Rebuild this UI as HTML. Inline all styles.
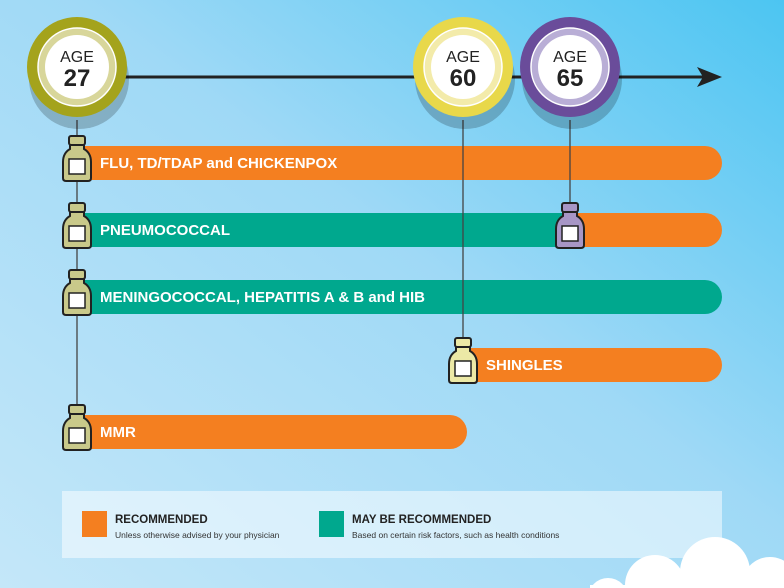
<!DOCTYPE html>
<html><head><style>
html,body{margin:0;padding:0;width:784px;height:588px;overflow:hidden}
svg{display:block}
text{font-family:"Liberation Sans",sans-serif}
</style></head><body>
<svg width="784" height="588" viewBox="0 0 784 588" xmlns="http://www.w3.org/2000/svg">
<defs>
<linearGradient id="bg" x1="0" y1="1" x2="1" y2="0">
<stop offset="0" stop-color="#c4e7f9"/><stop offset="0.55" stop-color="#9fd9f6"/><stop offset="1" stop-color="#4cc5f2"/>
</linearGradient>
<g id="bottle">
<rect x="-8" y="-10" width="16" height="9" rx="2" stroke="#222" stroke-width="2"/>
<path d="M-7,-1 L7,-1 L7,3 Q14,7 14,16 L14,32 Q14,35 11,35 L-11,35 Q-14,35 -14,32 L-14,16 Q-14,7 -7,3 Z" stroke="#222" stroke-width="2"/>
<rect x="-8" y="13" width="16" height="15" fill="#fff" stroke="#222" stroke-width="1.5"/>
</g>
</defs>
<rect width="784" height="588" fill="url(#bg)"/>
<!-- timeline -->
<line x1="120" y1="77" x2="705" y2="77" stroke="#222" stroke-width="3"/>
<path d="M697,67 L722,77 L697,87 L703,77 Z" fill="#222"/>
<line x1="77" y1="120" x2="77" y2="420" stroke="#444" stroke-width="1.3"/>
<!-- bars -->
<path d="M85,146 H705 A17,17 0 0 1 705,180 H85 Z" fill="#f47f20"/>
<path d="M570,213 H705 A17,17 0 0 1 705,247 H570 Z" fill="#f47f20"/>
<rect x="85" y="213" width="485" height="34" fill="#00a88e"/>
<path d="M85,280 H705 A17,17 0 0 1 705,314 H85 Z" fill="#00a88e"/>
<path d="M463,348 H705 A17,17 0 0 1 705,382 H463 Z" fill="#f47f20"/>
<path d="M85,415 H450 A17,17 0 0 1 450,449 H85 Z" fill="#f47f20"/>
<line x1="463" y1="120" x2="463" y2="345" stroke="#444" stroke-width="1.3"/>
<line x1="570" y1="120" x2="570" y2="210" stroke="#444" stroke-width="1.3"/>
<g font-weight="bold" fill="#fff" font-size="15">
<text x="100" y="168">FLU, TD/TDAP and CHICKENPOX</text>
<text x="100" y="235">PNEUMOCOCCAL</text>
<text x="100" y="302">MENINGOCOCCAL, HEPATITIS A &amp; B and HIB</text>
<text x="486" y="370">SHINGLES</text>
<text x="100" y="437">MMR</text>
</g>
<!-- bottles -->
<g fill="#c9c98a"><use href="#bottle" x="77" y="146"/></g>
<g fill="#c9c98a"><use href="#bottle" x="77" y="213"/></g>
<g fill="#c9c98a"><use href="#bottle" x="77" y="280"/></g>
<g fill="#c9c98a"><use href="#bottle" x="77" y="415"/></g>
<g fill="#ece9a6"><use href="#bottle" x="463" y="348"/></g>
<g fill="#a796c6"><use href="#bottle" x="570" y="213"/></g>
<!-- age circles -->
<g>
<circle cx="79" cy="79" r="50" fill="#000" opacity="0.2"/>
<circle cx="77" cy="67" r="50" fill="#a4a31c"/>
<circle cx="77" cy="67" r="39" fill="#d8d69a" stroke="#fff" stroke-width="1.5"/>
<circle cx="77" cy="67" r="32" fill="#fff"/>
<text x="77" y="62" text-anchor="middle" font-size="16" fill="#222">AGE</text>
<text x="77" y="86" text-anchor="middle" font-size="24" font-weight="bold" fill="#222">27</text>
</g>
<g>
<circle cx="465" cy="79" r="50" fill="#000" opacity="0.2"/>
<circle cx="463" cy="67" r="50" fill="#e8d84a"/>
<circle cx="463" cy="67" r="39" fill="#f3ebaa" stroke="#fff" stroke-width="1.5"/>
<circle cx="463" cy="67" r="32" fill="#fff"/>
<text x="463" y="62" text-anchor="middle" font-size="16" fill="#222">AGE</text>
<text x="463" y="86" text-anchor="middle" font-size="24" font-weight="bold" fill="#222">60</text>
</g>
<g>
<circle cx="572" cy="79" r="50" fill="#000" opacity="0.2"/>
<circle cx="570" cy="67" r="50" fill="#6a4c9a"/>
<circle cx="570" cy="67" r="39" fill="#b9aed6" stroke="#fff" stroke-width="1.5"/>
<circle cx="570" cy="67" r="32" fill="#fff"/>
<text x="570" y="62" text-anchor="middle" font-size="16" fill="#222">AGE</text>
<text x="570" y="86" text-anchor="middle" font-size="24" font-weight="bold" fill="#222">65</text>
</g>
<!-- legend -->
<rect x="62" y="491" width="660" height="67" fill="#fff" opacity="0.5"/>
<rect x="82" y="511" width="25" height="26" fill="#f47f20"/>
<rect x="319" y="511" width="25" height="26" fill="#00a88e"/>
<text x="115" y="523" font-size="11.5" font-weight="bold" fill="#222">RECOMMENDED</text>
<text x="115" y="538" font-size="8.5" fill="#333">Unless otherwise advised by your physician</text>
<text x="352" y="523" font-size="11.5" font-weight="bold" fill="#222">MAY BE RECOMMENDED</text>
<text x="352" y="538" font-size="8.5" fill="#333">Based on certain risk factors, such as health conditions</text>
<!-- cloud -->
<g fill="#fff">
<circle cx="608" cy="598" r="20"/>
<circle cx="655" cy="585" r="30"/>
<circle cx="715" cy="572" r="35"/>
<circle cx="770" cy="585" r="28"/>
<rect x="590" y="585" width="194" height="3"/>
</g>
</svg>
</body></html>
